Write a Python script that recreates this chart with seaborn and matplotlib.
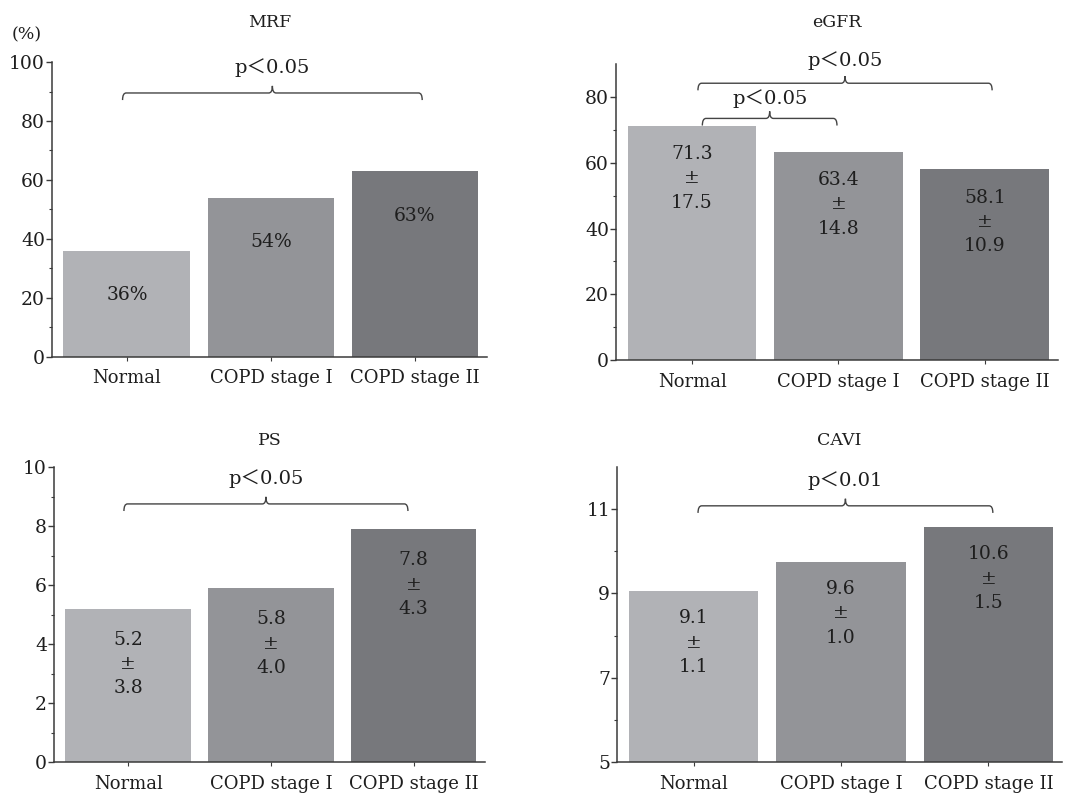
import numpy as np
import pandas as pd
import seaborn as sns
import matplotlib.pyplot as plt
from matplotlib.path import Path
from matplotlib.patches import PathPatch
from matplotlib.ticker import FixedLocator

# Data
groups = ['Normal', 'COPD stage I', 'COPD stage II']
bar_colors = ['#b1b2b6', '#939498', '#77787c']

mrf_values = [36, 54, 63]
mrf_labels = ['36%', '54%', '63%']

egfr_values = [71.3, 63.4, 58.1]
egfr_means = ['71.3', '63.4', '58.1']
egfr_sds = ['17.5', '14.8', '10.9']

ps_values = [5.2, 5.9, 7.9]
ps_means = ['5.2', '5.8', '7.8']
ps_sds = ['3.8', '4.0', '4.3']

cavi_values = [9.05, 9.75, 10.57]
cavi_means = ['9.1', '9.6', '10.6']
cavi_sds = ['1.1', '1.0', '1.5']

sns.set_style('ticks')
plt.rcParams['font.family'] = ['DejaVu Serif', 'Noto Sans CJK JP']
plt.rcParams['text.color'] = '#1e1e1e'
plt.rcParams['axes.edgecolor'] = '#3a3a3a'
plt.rcParams['xtick.color'] = '#3a3a3a'
plt.rcParams['ytick.color'] = '#3a3a3a'
plt.rcParams['xtick.labelcolor'] = '#1e1e1e'
plt.rcParams['ytick.labelcolor'] = '#1e1e1e'

FS = 13.5
TEXT_FONT = ['DejaVu Serif', 'Noto Sans CJK JP']

fig = plt.figure(figsize=(10.65, 7.95), dpi=100)
ax1 = fig.add_axes([0.0488, 0.551, 0.4085, 0.371])
ax2 = fig.add_axes([0.5784, 0.547, 0.415, 0.3723])
ax3 = fig.add_axes([0.0507, 0.0415, 0.4047, 0.371])
ax4 = fig.add_axes([0.5793, 0.0415, 0.418, 0.371])


def draw_bars(ax, values, ylim, major, minor, title, title_pad):
    df = pd.DataFrame({'group': groups, 'value': values})
    sns.barplot(data=df, x='group', y='value', hue='group', palette=bar_colors,
                width=0.88, saturation=1, legend=False, ax=ax, linewidth=0)
    if ylim[0] > 0:
        # bars start at the axis bottom, not at zero
        for p in ax.patches:
            p.set_y(ylim[0])
            p.set_height(p.get_height() - ylim[0])
    ax.set_xlim(-0.52, 2.5)
    ax.set_ylim(*ylim)
    ax.yaxis.set_major_locator(FixedLocator(major))
    ax.yaxis.set_minor_locator(FixedLocator(minor))
    ax.set_xlabel('')
    ax.set_ylabel('')
    ax.tick_params(axis='y', which='major', length=4, width=1, pad=1, labelsize=FS)
    ax.tick_params(axis='y', which='minor', length=2, width=0.8)
    ax.tick_params(axis='x', length=3, width=0.8, pad=6, labelsize=13)
    sns.despine(ax=ax)
    for s in ['left', 'bottom']:
        ax.spines[s].set_linewidth(1.1)
    ax.set_title(title, fontsize=12.5, pad=title_pad)


def label_bars(ax, values, texts, offset):
    for i, (v, t) in enumerate(zip(values, texts)):
        ax.annotate(t, xy=(i, v), xytext=(0, offset), textcoords='offset points',
                    ha='center', va='center', fontsize=FS, linespacing=1.45)


def draw_brace(ax, x1, x2, y, text, text_y):
    lo, hi = ax.get_ylim()
    rng = hi - lo
    d_end = 0.024 * rng
    d_peak = 0.024 * rng
    rx = 0.025
    xm = (x1 + x2) / 2
    verts = [
        (x1, y - d_end), (x1, y), (x1 + rx, y),
        (xm - rx, y), (xm, y), (xm, y + d_peak),
        (xm, y), (xm + rx, y),
        (x2 - rx, y), (x2, y), (x2, y - d_end),
    ]
    codes = [
        Path.MOVETO, Path.CURVE3, Path.CURVE3,
        Path.LINETO, Path.CURVE3, Path.CURVE3,
        Path.CURVE3, Path.CURVE3,
        Path.LINETO, Path.CURVE3, Path.CURVE3,
    ]
    ax.add_patch(PathPatch(Path(verts, codes), facecolor='none',
                           edgecolor='#444444', lw=1.0, clip_on=False))
    ax.text(xm, text_y, text, ha='center', va='center', fontsize=FS + 0.5,
            family=TEXT_FONT, clip_on=False)


# MRF
draw_bars(ax1, mrf_values, (0, 100), [0, 20, 40, 60, 80, 100],
          [10, 30, 50, 70, 90], 'MRF', 25)
label_bars(ax1, mrf_values, mrf_labels, -32)
ax1.text(-0.057, 1.092, '(%)', transform=ax1.transAxes, ha='center',
         va='center', fontsize=12.5)
draw_brace(ax1, -0.03, 2.05, 89.5, 'p＜0.05', 98)

# eGFR
draw_bars(ax2, egfr_values, (0, 90), [0, 20, 40, 60, 80],
          [10, 30, 50, 70], 'eGFR', 27)
label_bars(ax2, egfr_values, [f'{m}\n±\n{s}' for m, s in zip(egfr_means, egfr_sds)], -38)
draw_brace(ax2, 0.04, 2.05, 84.2, 'p＜0.05', 91.2)
draw_brace(ax2, 0.07, 0.99, 73.5, 'p＜0.05', 79.6)

# PS
draw_bars(ax3, ps_values, (0, 10), [0, 2, 4, 6, 8, 10],
          [1, 3, 5, 7, 9], 'PS', 16)
label_bars(ax3, ps_values, [f'{m}\n±\n{s}' for m, s in zip(ps_means, ps_sds)], -40)
draw_brace(ax3, -0.03, 1.96, 8.75, 'p＜0.05', 9.6)

# CAVI
draw_bars(ax4, cavi_values, (5, 12), [5, 7, 9, 11],
          [6, 8, 10], 'CAVI', 16)
label_bars(ax4, cavi_values, [f'{m}\n±\n{s}' for m, s in zip(cavi_means, cavi_sds)], -37)
draw_brace(ax4, 0.03, 2.03, 11.08, 'p＜0.01', 11.67)

fig.savefig('out.png', dpi=100, facecolor='white')
